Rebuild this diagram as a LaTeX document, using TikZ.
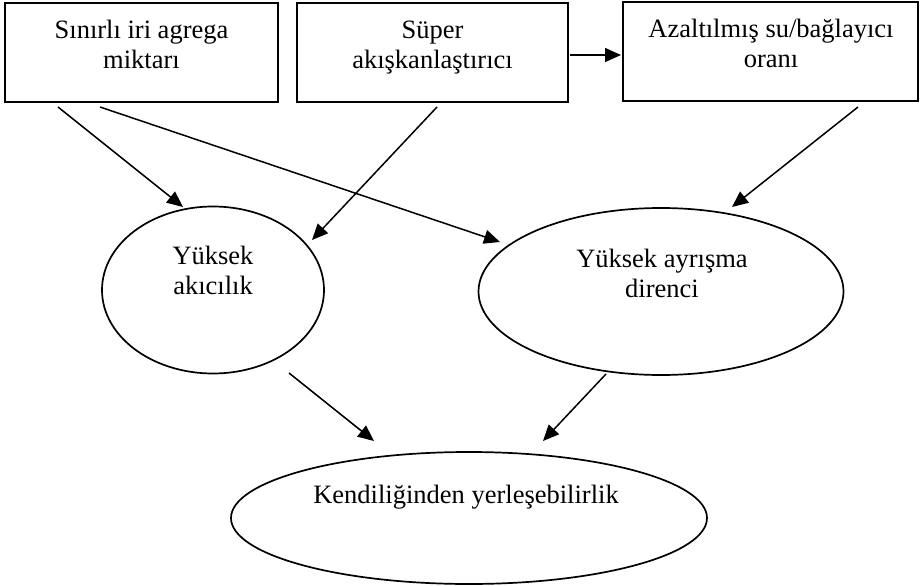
\documentclass[tikz,border=0pt]{standalone}
\usepackage{fontspec}
\setmainfont{Liberation Serif}
\usetikzlibrary{shapes.geometric,arrows.meta}
\begin{document}
\begin{tikzpicture}[x=1pt,y=-1pt,
  box/.style={draw,line width=1.8pt,rectangle,inner sep=0pt},
  oval/.style={draw,line width=1.7pt,ellipse,inner sep=0pt},
  txt/.style={align=center,inner sep=0pt,anchor=base,font=\fontsize{26.5}{30}\selectfont},
  arr/.style={line width=1.5pt,-{Triangle[length=16pt,width=14pt]}}]
\useasboundingbox[fill=white] (0,0) rectangle (921,586);
% boxes
\node[box,minimum width=273pt,minimum height=99pt] (b1) at (141.5,52.5) {};
\node[box,minimum width=271pt,minimum height=99pt] (b2) at (432.5,52.5) {};
\node[box,minimum width=295pt,minimum height=99pt] (b3) at (770.5,51.5) {};
\node[txt] (t1) at (141.5,69) {Sınırlı iri agrega\\miktarı};
\node[txt] (t2) at (432.5,69) {Süper\\akışkanlaştırıcı};
\node[txt] (t3) at (771,67) {Azaltılmış su/bağlayıcı\\oranı};
% ellipses
\node[oval,minimum width=222pt,minimum height=167pt] (e1) at (213,290) {};
\node[oval,minimum width=365pt,minimum height=167pt] (e2) at (661,291.5) {};
\node[oval,minimum width=476pt,minimum height=132pt] (e3) at (469,518) {};
\node[txt] (t4) at (213,294) {Yüksek\\akıcılık};
\node[txt] (t5) at (662,297) {Yüksek ayrışma\\direnci};
\node[txt] (t6) at (466,503) {Kendiliğinden yerleşebilirlik};
% connector ends
\coordinate (a1s) at (58,107);  \coordinate (a1e) at (183,207);
\coordinate (a2s) at (100,107); \coordinate (a2e) at (500,242);
\coordinate (a3s) at (437,107); \coordinate (a3e) at (312,240);
\coordinate (a4s) at (858,107); \coordinate (a4e) at (732,207);
\coordinate (a5s) at (289,373); \coordinate (a5e) at (374,441);
\coordinate (a6s) at (606,374); \coordinate (a6e) at (543,441);
\coordinate (a7s) at (570,55);  \coordinate (a7e) at (621,55);
\draw[arr] (a1s) -- (a1e);
\draw[arr] (a2s) -- (a2e);
\draw[arr] (a3s) -- (a3e);
\draw[arr] (a4s) -- (a4e);
\draw[arr] (a5s) -- (a5e);
\draw[arr] (a6s) -- (a6e);
\draw[arr] (a7s) -- (a7e);
\end{tikzpicture}
\end{document}
